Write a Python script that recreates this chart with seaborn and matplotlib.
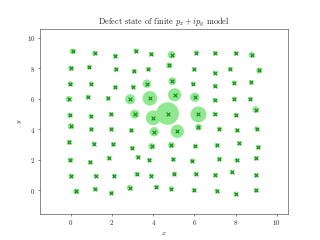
import matplotlib
matplotlib.use("Agg")
import matplotlib.pyplot as plt
import numpy as np
import pandas as pd
import seaborn as sns

# ── Data (sites of the jittered 10x10 lattice, rows top to bottom) ─────────────
site_x = [
    0.08, 1.15, 2.16, 3.15, 3.90, 4.89, 6.10, 6.99, 8.00, 8.78,
    0.00, 0.89, 2.18, 3.07, 3.77, 4.78, 5.98, 6.99, 7.74, 9.15,
    -0.02, 0.99, 2.16, 3.02, 3.69, 4.93, 5.93, 6.99, 7.92, 8.76,
    -0.11, 0.83, 1.80, 2.88, 3.84, 5.04, 6.02, 6.98, 7.93, 8.72,
    -0.06, 0.96, 1.95, 3.10, 4.00, 4.70, 6.20, 6.98, 8.01, 8.98,
    0.00, 1.00, 1.97, 2.94, 4.05, 5.17, 6.20, 7.22, 8.06, 9.02,
    -0.08, 1.11, 2.06, 2.98, 3.92, 4.88, 6.05, 7.09, 8.18, 9.10,
    -0.02, 0.94, 1.84, 3.24, 3.82, 4.97, 5.90, 7.22, 8.05, 9.00,
    0.00, 1.20, 2.10, 3.19, 3.90, 5.03, 6.06, 7.02, 7.82, 9.00,
    0.26, 1.17, 1.97, 2.86, 4.16, 4.88, 5.97, 7.09, 8.00, 9.00,
]
site_y = [
    9.12, 8.99, 8.84, 9.15, 8.95, 8.89, 9.04, 8.99, 8.99, 8.89,
    8.01, 8.10, 7.93, 7.82, 7.95, 8.19, 7.93, 7.71, 7.95, 7.86,
    6.99, 6.99, 6.75, 6.80, 6.99, 7.16, 6.99, 6.86, 7.06, 7.08,
    5.99, 6.12, 6.03, 5.97, 6.03, 6.26, 6.10, 5.92, 5.99, 5.99,
    4.92, 4.84, 4.99, 4.99, 4.75, 5.03, 4.97, 5.01, 4.94, 5.29,
    4.20, 3.99, 4.00, 3.92, 3.83, 3.86, 4.13, 4.03, 3.92, 4.04,
    3.14, 3.05, 3.00, 2.76, 2.87, 2.95, 2.90, 2.94, 3.07, 2.81,
    1.98, 1.83, 2.11, 2.16, 1.98, 2.01, 1.93, 2.05, 1.96, 2.09,
    0.92, 0.93, 0.93, 1.05, 0.95, 1.08, 1.07, 1.00, 1.20, 0.98,
    -0.09, 0.08, -0.18, 0.15, 0.20, 0.10, 0.00, -0.05, -0.24, -0.03,
]
# defect-state weight on each site (relative)
weight = [
    0.06, 0.05, 0.04, 0.05, 0.04, 0.11, 0.04, 0.04, 0.04, 0.07,
    0.06, 0.04, 0.04, 0.04, 0.04, 0.07, 0.04, 0.04, 0.04, 0.07,
    0.05, 0.04, 0.04, 0.04, 0.14, 0.12, 0.04, 0.04, 0.04, 0.04,
    0.07, 0.04, 0.04, 0.20, 0.42, 0.34, 0.17, 0.04, 0.04, 0.04,
    0.05, 0.04, 0.04, 0.16, 0.42, 1.00, 0.50, 0.04, 0.04, 0.085,
    0.07, 0.04, 0.04, 0.04, 0.17, 0.35, 0.085, 0.04, 0.04, 0.04,
    0.05, 0.04, 0.04, 0.04, 0.085, 0.085, 0.04, 0.04, 0.04, 0.04,
    0.05, 0.04, 0.04, 0.04, 0.04, 0.04, 0.04, 0.04, 0.04, 0.04,
    0.05, 0.04, 0.04, 0.04, 0.04, 0.04, 0.04, 0.04, 0.04, 0.04,
    0.07, 0.04, 0.04, 0.07, 0.04, 0.04, 0.04, 0.04, 0.04, 0.04,
]

# ── Style ──────────────────────────────────────────────────────────────────────
sns.set_style("ticks")
plt.rcParams["font.family"] = ["cmr10", "DejaVu Serif"]
plt.rcParams["mathtext.fontset"] = "cm"
plt.rcParams["axes.formatter.use_mathtext"] = True
plt.rcParams["axes.edgecolor"] = "#333333"

df = pd.DataFrame({"x": site_x, "y": site_y, "w": weight})

fig, ax = plt.subplots(figsize=(6.4, 4.8), dpi=50)

sns.scatterplot(data=df, x="x", y="y", size="w", sizes=(0, 1060),
                size_norm=(0, 1.0), color="#90e890", edgecolor="none",
                linewidth=0, legend=False, ax=ax, zorder=1)
sns.scatterplot(data=df, x="x", y="y", marker="x", color="#0f8a0f",
                s=28, linewidth=1.6, legend=False, ax=ax, zorder=2)

ax.set_xlim(-1.5, 10.55)
ax.set_ylim(-1.55, 10.6)
ax.set_xticks([0, 2, 4, 6, 8, 10])
ax.set_yticks([0, 2, 4, 6, 8, 10])
ax.set_xlabel("$x$")
ax.set_ylabel("$y$")
ax.set_title("Defect state of finite $p_x + ip_y$ model")

fig.savefig("out.png", dpi=50)
plt.close(fig)
